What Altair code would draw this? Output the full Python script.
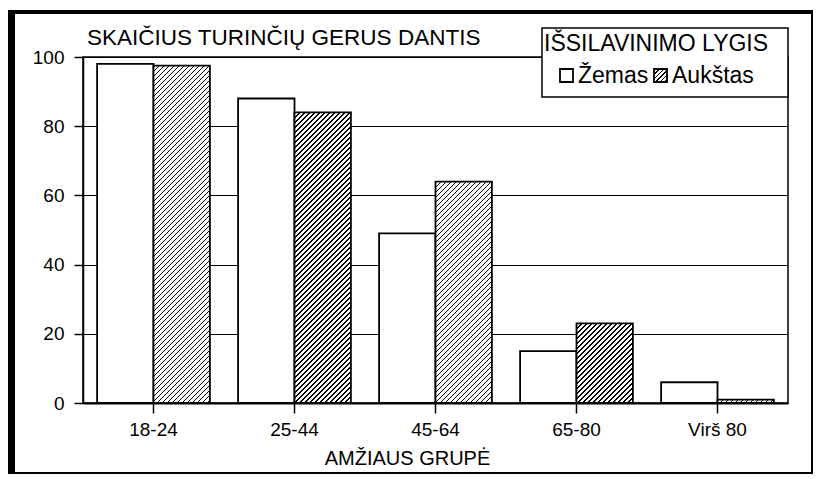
import altair as alt
import pandas as pd

# ---- data ----
categories = ["18-24", "25-44", "45-64", "65-80", "Virš 80"]
series = ["Žemas", "Aukštas"]
zemas = [98, 88, 49, 15, 6]
aukstas = [97.5, 84, 64, 23, 1]
y_ticks = [0, 20, 40, 60, 80, 100]

title_text = "SKAIČIUS TURINČIŲ GERUS DANTIS"
legend_title = "IŠSILAVINIMO LYGIS"
x_title = "AMŽIAUS GRUPĖ"

FONT = "Liberation Sans"
W, H = 705, 346
BAR_W = W / len(categories) * 0.8 / 2


def hatch(w, h, period=5.0, line=1.7):
    """Diagonal '/' hatching as a linear gradient in bounding-box units."""
    L = w + h
    k = L / (w * w + h * h)
    stops = []
    i = 0
    while i * period / L <= 1:
        a = i * period / L
        b = min((i * period + line) / L, 1)
        nxt = min((i + 1) * period / L, 1)
        stops += [
            {"offset": a, "color": "black"},
            {"offset": b, "color": "black"},
            {"offset": b, "color": "white"},
            {"offset": nxt, "color": "white"},
        ]
        i += 1
    return {"gradient": "linear", "x1": 0, "y1": 0, "x2": w * k, "y2": h * k, "stops": stops}


rows = []
for c, zv, av in zip(categories, zemas, aukstas):
    rows.append({"cat": c, "series": series[0], "value": zv, "fill": "white"})
    rows.append({"cat": c, "series": series[1], "value": av,
                 "fill": hatch(BAR_W, max(av / 100 * H, 0.5))})
df = pd.DataFrame(rows)

bars = alt.Chart(df).mark_bar(stroke="black", strokeWidth=1.8, aria=False).encode(
    x=alt.X("cat:N", sort=categories,
            scale=alt.Scale(paddingInner=0.2, paddingOuter=0.1),
            axis=alt.Axis(title=x_title, labelAngle=0, tickSize=10, tickWidth=1.5,
                          tickColor="black", domainColor="black", domainWidth=2,
                          labelFontSize=19, labelPadding=7, labelColor="black",
                          labelFont=FONT, titleFont=FONT, titleFontSize=20,
                          titleFontWeight="normal", titleColor="black",
                          titleX=324, titleY=61, titleBaseline="alphabetic")),
    xOffset=alt.XOffset("series:N", sort=series,
                        scale=alt.Scale(paddingInner=0, paddingOuter=0)),
    y=alt.Y("value:Q", scale=alt.Scale(domain=[0, 100], nice=False),
            axis=alt.Axis(values=y_ticks, title=None, tickSize=9, tickWidth=1.5,
                          tickColor="black", domainColor="black", domainWidth=1.5,
                          labelFontSize=19, labelPadding=10, labelColor="black",
                          labelFont=FONT, grid=True, gridColor="black",
                          gridWidth=1.2, gridOpacity=1)),
    fill=alt.Fill("fill:N", scale=None),
)

one = pd.DataFrame({"k": [0]})
base = alt.Chart(one)

# outer frame of the figure
frame = alt.layer(
    base.mark_rule(color="black", strokeWidth=7).encode(
        x=alt.value(-71.5), y=alt.value(-47), y2=alt.value(417)),
    base.mark_rule(color="black", strokeWidth=4).encode(
        x=alt.value(-75), x2=alt.value(730), y=alt.value(-45)),
    base.mark_rule(color="black", strokeWidth=2).encode(
        x=alt.value(729), y=alt.value(-47), y2=alt.value(417)),
    base.mark_rule(color="black", strokeWidth=2).encode(
        x=alt.value(-75), x2=alt.value(730), y=alt.value(416)),
)

title = base.mark_text(text=title_text, align="left", baseline="alphabetic",
                       font=FONT, fontSize=22.5, color="black").encode(
    x=alt.value(4), y=alt.value(-12))

legend = alt.layer(
    base.mark_rect(fill="white", stroke="black", strokeWidth=1.5).encode(
        x=alt.value(459), x2=alt.value(705), y=alt.value(-29), y2=alt.value(40)),
    base.mark_text(text=legend_title, align="left", baseline="alphabetic",
                   font=FONT, fontSize=23, color="black").encode(
        x=alt.value(461), y=alt.value(-6)),
    base.mark_rect(fill="white", stroke="black", strokeWidth=1.8).encode(
        x=alt.value(477), x2=alt.value(490), y=alt.value(12), y2=alt.value(25)),
    base.mark_text(text=series[0], align="left", baseline="alphabetic",
                   font=FONT, fontSize=23, color="black").encode(
        x=alt.value(495), y=alt.value(26)),
    base.mark_rect(fill=hatch(13, 13, period=4.5, line=1.5), stroke="black",
                   strokeWidth=1.8).encode(
        x=alt.value(571), x2=alt.value(584), y=alt.value(12), y2=alt.value(25)),
    base.mark_text(text=series[1], align="left", baseline="alphabetic",
                   font=FONT, fontSize=23, color="black").encode(
        x=alt.value(589), y=alt.value(26)),
)

chart = alt.layer(bars, frame, title, legend).properties(
    width=W, height=H,
    autosize=alt.AutoSizeParams(type="none"),
    padding={"left": 75, "top": 49, "right": 25, "bottom": 75},
    background="white",
).configure_view(stroke="black", strokeWidth=1.5).configure_text(font=FONT)

chart.save("out.html", embed_options={"renderer": "svg", "actions": False})
